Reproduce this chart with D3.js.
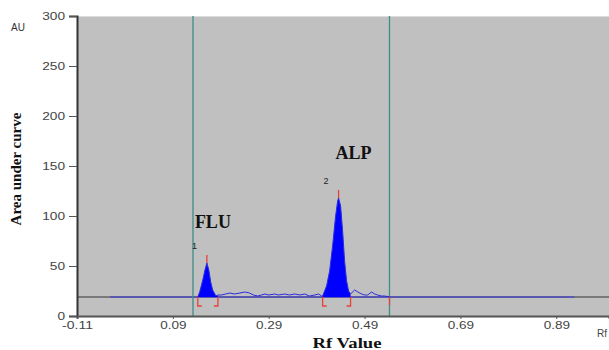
<!DOCTYPE html>
<html>
<head>
<meta charset="utf-8">
<script src="https://cdn.jsdelivr.net/npm/d3@7"></script>
<style>
  body { margin: 0; background: #fff; }
  svg { display: block; }
</style>
</head>
<body>
<div id="chart"></div>
<script>
// densitogram trace (Rf, AU)
const traceRf = [0.142, 0.146, 0.1525, 0.157, 0.161, 0.165, 0.169, 0.173, 0.18, 0.184,
  0.192, 0.2, 0.209, 0.218, 0.23, 0.24, 0.25, 0.258, 0.267, 0.275, 0.282, 0.29, 0.3025,
  0.31, 0.3233, 0.333, 0.3442, 0.355, 0.365, 0.375, 0.386, 0.394, 0.4004,
  0.4025, 0.4108, 0.4171, 0.4233, 0.4296, 0.4338, 0.4358, 0.44, 0.4442, 0.4483, 0.4525, 0.4567, 0.4608,
  0.4692, 0.476, 0.4838, 0.49, 0.4963, 0.5046, 0.511, 0.5171, 0.525, 0.5317, 0.5442];
const traceAu = [19, 24, 36, 46, 53, 46, 34, 26, 20, 21,
  21, 22, 23, 22, 23, 24, 23, 21, 20, 21, 22, 21, 22,
  21, 22, 21, 22, 21, 22, 20, 21, 22, 20,
  20, 30, 45, 70, 100, 115, 118, 110, 85, 55, 35, 25, 22,
  26, 24, 22, 21, 21, 24, 22, 21, 20, 20, 19];

// peaks: number, name, start / apex / end Rf, apex height
const peakNum = ['1', '2'];
const peakName = ['FLU', 'ALP'];
const peakStart = [0.142, 0.4025];
const peakApex = [0.161, 0.4358];
const peakEnd = [0.184, 0.4608];
const peakHeight = [53, 118];

// scan track limits and baseline
const trackRf = [0.132, 0.542];
const baselineAu = 19;
const baselineBlue = [-0.041, 0.9275];

const xTicks = [-0.11, 0.09, 0.29, 0.49, 0.69, 0.89];
const yTicks = [0, 50, 100, 150, 200, 250, 300];

const width = 609, height = 350;
const margin = { top: 16, right: 0, bottom: 34, left: 77 };
// where the peak names sit, relative to the apex (px)
const nameDx = [6, 15], nameDy = [-35, -39];

const x = d3.scaleLinear().domain([-0.11, 1.0]).range([margin.left, margin.left + 532]);
const y = d3.scaleLinear().domain([0, 300]).range([316, 16]);

const svg = d3.select('#chart').append('svg')
  .attr('width', width)
  .attr('height', height);

// plot background
svg.append('rect')
  .attr('x', margin.left).attr('y', margin.top)
  .attr('width', width - margin.left).attr('height', 300)
  .attr('fill', '#c0c0c0');
svg.append('line')
  .attr('x1', margin.left).attr('x2', width)
  .attr('y1', margin.top + 0.5).attr('y2', margin.top + 0.5)
  .attr('stroke', '#dcdcdc');

// baseline: black ends, blue middle
svg.append('line')
  .attr('x1', x(-0.11)).attr('x2', width)
  .attr('y1', y(baselineAu)).attr('y2', y(baselineAu))
  .attr('stroke', '#333').attr('stroke-width', 1.2);
svg.append('line')
  .attr('x1', x(baselineBlue[0])).attr('x2', x(baselineBlue[1]))
  .attr('y1', y(baselineAu)).attr('y2', y(baselineAu))
  .attr('stroke', '#3a3ae8').attr('stroke-width', 1.2);

// track limit lines
svg.selectAll('.track')
  .data(trackRf)
  .join('line')
  .attr('x1', d => x(d)).attr('x2', d => x(d))
  .attr('y1', margin.top).attr('y2', 316)
  .attr('stroke', '#3f8c88').attr('stroke-width', 1.3);

const pts = traceRf.map((r, i) => [r, traceAu[i]]);

// filled peak areas
peakStart.forEach((s, i) => {
  const seg = pts.filter(p => p[0] >= s && p[0] <= peakEnd[i]);
  svg.append('path')
    .datum(seg)
    .attr('d', d3.area().x(d => x(d[0])).y0(y(baselineAu)).y1(d => y(d[1])))
    .attr('fill', '#0000ff');
});

// trace line
svg.append('path')
  .datum(pts)
  .attr('d', d3.line().x(d => x(d[0])).y(d => y(d[1])))
  .attr('fill', 'none')
  .attr('stroke', '#2a2ae0')
  .attr('stroke-width', 1);

// red peak markers
const red = '#e8413a';
peakApex.forEach((a, i) => {
  svg.append('line')
    .attr('x1', x(a)).attr('x2', x(a))
    .attr('y1', y(peakHeight[i])).attr('y2', y(peakHeight[i]) - 8)
    .attr('stroke', red).attr('stroke-width', 1.3);
  const b = y(baselineAu);
  svg.append('path')
    .attr('d', `M${x(peakStart[i]) + 4},${b + 9}H${x(peakStart[i])}V${b}`)
    .attr('fill', 'none').attr('stroke', red).attr('stroke-width', 1.3);
  svg.append('path')
    .attr('d', `M${x(peakEnd[i]) - 4},${b + 9}H${x(peakEnd[i])}V${b}`)
    .attr('fill', 'none').attr('stroke', red).attr('stroke-width', 1.3);
  svg.append('text')
    .attr('x', x(a) - 15).attr('y', y(peakHeight[i]) - 14)
    .attr('font-family', 'Liberation Sans, Arial, sans-serif')
    .attr('font-size', 9).attr('fill', '#222')
    .text(peakNum[i]);
  svg.append('text')
    .attr('x', x(a) + nameDx[i]).attr('y', y(peakHeight[i]) + nameDy[i])
    .attr('text-anchor', 'middle')
    .attr('font-family', 'Liberation Serif, Times New Roman, serif')
    .attr('font-weight', 'bold')
    .attr('font-size', 18).attr('fill', '#111')
    .text(peakName[i]);
});
svg.append('line')
  .attr('x1', x(trackRf[1])).attr('x2', x(trackRf[1]))
  .attr('y1', y(baselineAu)).attr('y2', y(baselineAu) + 8)
  .attr('stroke', red).attr('stroke-width', 1.3);

// tick labels in the picture are wide and flat
const labelWidth = s => s.split('').reduce((w, c) => w + (c === '.' ? 3.5 : c === '-' ? 4.5 : 7.6), 0);
const tickFont = g => g.selectAll('text')
  .attr('font-family', 'Liberation Sans, Arial, sans-serif')
  .attr('font-size', 10).attr('fill', '#444')
  .attr('lengthAdjust', 'spacingAndGlyphs')
  .attr('textLength', function () { return labelWidth(this.textContent); });

svg.append('g')
  .attr('transform', `translate(${margin.left},0)`)
  .call(d3.axisLeft(y).tickValues(yTicks).tickSize(8).tickPadding(4))
  .call(g => g.select('.domain').attr('stroke', '#333').attr('stroke-width', 2))
  .call(g => g.selectAll('.tick line').attr('stroke', '#555'))
  .call(tickFont);

svg.append('g')
  .attr('transform', 'translate(0,316)')
  .call(d3.axisBottom(x).tickValues(xTicks).tickFormat(d => d.toFixed(2)).tickSize(3).tickPadding(3))
  .call(g => g.select('.domain').attr('stroke', '#555').attr('stroke-width', 2))
  .call(g => g.selectAll('.tick line').attr('stroke', '#555'))
  .call(tickFont);

// axis titles
svg.append('text')
  .attr('x', 18).attr('y', 31)
  .attr('text-anchor', 'middle')
  .attr('font-family', 'Liberation Sans, Arial, sans-serif')
  .attr('font-size', 10).attr('fill', '#333')
  .text('AU');
svg.append('text')
  .attr('transform', 'translate(21,169) rotate(-90)')
  .attr('text-anchor', 'middle')
  .attr('font-family', 'Liberation Serif, Times New Roman, serif')
  .attr('font-weight', 'bold')
  .attr('font-size', 15).attr('fill', '#111')
  .text('Area under curve');
svg.append('text')
  .attr('x', 347).attr('y', 348)
  .attr('text-anchor', 'middle')
  .attr('font-family', 'Liberation Serif, Times New Roman, serif')
  .attr('font-weight', 'bold')
  .attr('font-size', 14).attr('fill', '#111')
  .attr('textLength', 69).attr('lengthAdjust', 'spacingAndGlyphs')
  .text('Rf Value');
svg.append('text')
  .attr('x', 597).attr('y', 337)
  .attr('font-family', 'Liberation Sans, Arial, sans-serif')
  .attr('font-size', 10).attr('fill', '#444')
  .text('Rf');
</script>
</body>
</html>
